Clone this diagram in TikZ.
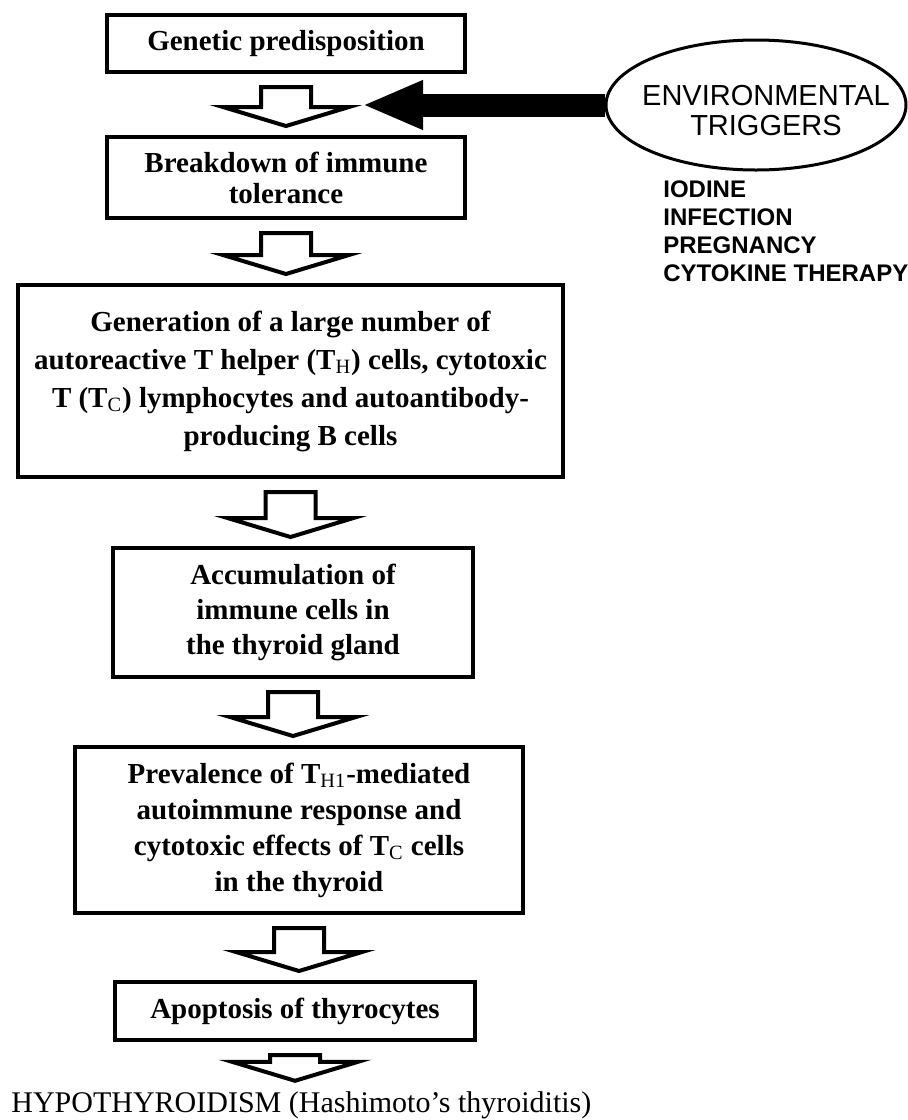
\documentclass[tikz,border=0pt]{standalone}
\usepackage{fontspec}
\setmainfont{Liberation Serif}
\newfontfamily\trigfont{Liberation Sans}
\usetikzlibrary{shapes.geometric, arrows.meta, calc}

\tikzset{
	cascade/.style = {draw, line width = 2pt, align = center, inner sep = 0pt,
		font = \bfseries\fontsize{14.5pt}{#1}\selectfont},
	cascade/.default = 17.5pt,
	hollow/.style = {draw, fill = white, line width = 2pt, line join = miter}
}

% Hollow block arrow from the bottom of one box down to the next one
\def\shaft{25}		% Half width of the shaft
\def\wing{63}		% Half width of the head
\def\head{19}		% Length of the head

\newcommand{\hollowarrow}[3][9]{%
	\coordinate (top) at ($(#2.south) + (0, 13)$);
	\coordinate (tip) at ($(#2.south |- #3.north) + (0, -#1)$);
	\draw [hollow] ($(top) + (-\shaft, 0)$) -- ($(tip) + (-\shaft, -\head)$)
		-- ($(tip) + (-\wing, -\head)$) -- (tip) -- ($(tip) + (\wing, -\head)$)
		-- ($(tip) + (\shaft, -\head)$) -- ($(top) + (\shaft, 0)$) -- cycle;
}

\begin{document}
\begin{tikzpicture}[x = 0.5pt, y = -0.5pt]

	\useasboundingbox (0, 0) rectangle (908, 1120);

	% Boxes of the cascade
	
	\node (genetic) [cascade, minimum width = 179pt, minimum height = 28.5pt] at (286, 43.5)
		{Genetic predisposition};
	\node (tolerance) [cascade = 15.5pt, minimum width = 179pt, minimum height = 40.5pt] at (286, 177.5)
		{Breakdown of immune\\tolerance};
	\node (generation) [cascade = 19pt, minimum width = 272.5pt, minimum height = 96pt] at (290.5, 381)
		{Generation of a large number of\\
		autoreactive T helper (T\textsubscript{\mdseries H}) cells, cytotoxic\\
		T (T\textsubscript{\mdseries C}) lymphocytes and autoantibody-\\
		producing B cells};
	\node (accumulation) [cascade, minimum width = 180pt, minimum height = 64.5pt] at (293, 612.5)
		{Accumulation of\\immune cells in\\the thyroid gland};
	\node (prevalence) [cascade = 18pt, minimum width = 224pt, minimum height = 83pt] at (299, 830)
		{Prevalence of T\textsubscript{\mdseries H1}-mediated\\
		autoimmune response and\\
		cytotoxic effects of T\textsubscript{\mdseries C} cells\\
		in the thyroid};
	\node (apoptosis) [cascade, minimum width = 180pt, minimum height = 29pt] at (295, 1011)
		{Apoptosis of thyrocytes};
	\node (hypothyroidism) [anchor = base west, inner sep = 0pt, font = \fontsize{15pt}{18pt}\selectfont] at (11, 1112)
		{HYPOTHYROIDISM (Hashimoto’s thyroiditis)};
		
	% Hollow arrows between the boxes
	
	\hollowarrow{genetic}{tolerance}
	\hollowarrow{tolerance}{generation}
	\hollowarrow{generation}{accumulation}
	\hollowarrow{accumulation}{prevalence}
	\hollowarrow{prevalence}{apoptosis}
	\hollowarrow[10]{apoptosis}{hypothyroidism}
	
	% Environmental triggers with the list below
	
	\node (triggers) [ellipse, draw, line width = 1.5pt, minimum width = 150pt, minimum height = 65pt] at (756, 105) {};
	\node (trigtext) [align = center, font = \trigfont\fontsize{14.5pt}{15pt}\selectfont] at ($(triggers) + (10, 6)$)
		{ENVIRONMENTAL\\TRIGGERS};
	\node (examples) [anchor = north west, inner sep = 0pt, align = left, font = \trigfont\bfseries\fontsize{12pt}{14pt}\selectfont] at (663, 180)
		{IODINE\\INFECTION\\PREGNANCY\\CYTOKINE THERAPY};
	
	\coordinate (entry) at (362, 105);
	\draw [-{Triangle[length = 30.5pt 0, width = 22.5pt 0]}, line width = 11.5pt] (triggers.west) -- (entry);

\end{tikzpicture}
\end{document}
